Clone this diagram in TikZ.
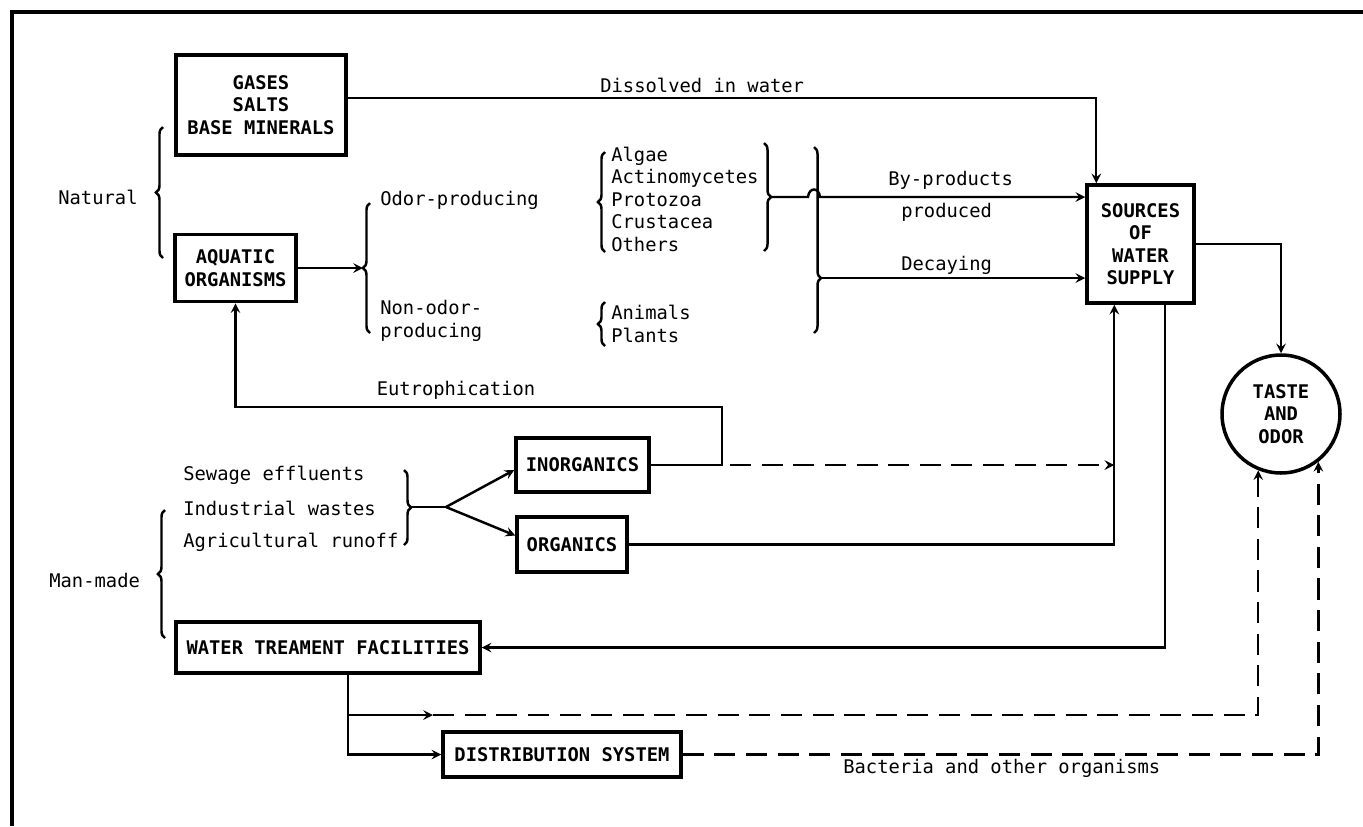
\documentclass[tikz,border=0pt]{standalone}
\usepackage{fontspec}
\newfontfamily\typefont{DejaVu Sans Mono}
\usetikzlibrary{decorations.pathreplacing}

\begin{document}
\begin{tikzpicture}[x=0.02cm, y=-0.02cm, >=stealth,
    txt/.style={font=\typefont\fontsize{10.7}{12.8}\selectfont, inner sep=0pt},
    labelbox/.style={draw, line width=2pt, align=center, inner sep=0pt,
      font=\typefont\bfseries\fontsize{10.7}{12.8}\selectfont},
    link/.style={line width=1.4pt},
    dashlink/.style={line width=1.4pt, dash pattern=on 12pt off 6pt},
    curly/.style={decorate, decoration={brace, amplitude=4pt}, line width=1.4pt}]

    \useasboundingbox (0,0) rectangle (1363,826);

    % --- Frame (top and left only) ---
    \draw[line width=2.2pt] (1363,12) -- (12,12) -- (12,826);

    % --- Boxes ---
    \node[labelbox, minimum width=3.4cm, minimum height=2cm] (gases) at (261,105) {GASES\\SALTS\\BASE MINERALS};
    \node[labelbox, minimum width=2.42cm, minimum height=1.34cm] (aquatic) at (235.5,268) {AQUATIC\\ORGANISMS};
    \node[labelbox, minimum width=2.14cm, minimum height=2.36cm] (sources) at (1140.5,244) {SOURCES\\OF\\WATER\\SUPPLY};
    \node[labelbox, circle, minimum size=2.36cm] (taste) at (1281,414) {TASTE\\AND\\ODOR};
    \node[labelbox, minimum width=2.66cm, minimum height=1.08cm] (inorg) at (582.5,465) {INORGANICS};
    \node[labelbox, minimum width=2.2cm, minimum height=1.1cm] (org) at (572,544.5) {ORGANICS};
    \node[labelbox, minimum width=6.08cm, minimum height=1.02cm] (treat) at (328,647.5) {WATER TREAMENT FACILITIES};
    \node[labelbox, minimum width=4.76cm, minimum height=0.9cm] (distr) at (562,754.5) {DISTRIBUTION SYSTEM};

    % --- Plain labels ---
    \node[txt, anchor=west] (natural) at (58,197) {Natural};
    \node[txt, anchor=west] (manmade) at (49,580) {Man-made};
    \node[txt, anchor=west] (dissolved) at (600,85) {Dissolved in water};
    \node[txt, anchor=west] (odor) at (380,200) {Odor-producing};
    \node[txt, anchor=west, align=left] (nonodor) at (380,321) {Non-odor-\\producing};
    \node[txt, anchor=west, align=left] (algae) at (611,199) {Algae\\Actinomycetes\\Protozoa\\Crustacea\\Others};
    \node[txt, anchor=west, align=left] (animals) at (611,324) {Animals\\Plants};
    \node[txt, anchor=west] (byprod) at (888,180) {By-products};
    \node[txt, anchor=west] (produced) at (901,212) {produced};
    \node[txt, anchor=west] (decaying) at (901,265) {Decaying};
    \node[txt] (eutro) at (456,390) {Eutrophication};
    \node[txt, anchor=west] (sewage) at (183,475) {Sewage effluents};
    \node[txt, anchor=west] (industrial) at (183,508) {Industrial wastes};
    \node[txt, anchor=west] (agri) at (183,542) {Agricultural runoff};
    \node[txt, anchor=west] (bacteria) at (843,768) {Bacteria and other organisms};

    % --- Braces ---
    \draw[curly] (163,258) -- (163,127);
    \draw[curly] (165,638) -- (165,510);
    \draw[curly] (370,333) -- (370,203);
    \draw[curly] (605,252) -- (605,152);
    \draw[curly] (605,346) -- (605,302);
    \draw[curly] (764,143) -- (764,251);
    \draw[curly, decoration={aspect=0.705}] (814,147) -- (814,333);
    \draw[curly] (404,470) -- (404,545);

    % --- Helper points ---
    \coordinate (odortip) at (363,268);
    \coordinate (bptip) at (771,197);
    \coordinate (dectip) at (821,278);
    \coordinate (sewtip) at (411,507);
    \coordinate (split) at (446,507);
    \coordinate (eucorner) at (722,465);
    \coordinate (eutop) at (722,407);
    \coordinate (sbin) at ([xshift=0.58cm]sources.south west);
    \coordinate (sbout) at ([xshift=1.6cm]sources.south west);
    \coordinate (tdown) at ([xshift=0.4cm]treat.south);
    \coordinate (tbranch) at (348,715);
    \coordinate (tmid) at (433,715);

    % --- Natural side ---
    \draw[link,->] ([yshift=0.14cm]gases.east) -| ([xshift=0.22cm]sources.north west);
    \draw[link,->] (aquatic.east) -- (odortip);
    \draw[link,->] (bptip) -- (808,197) .. controls (809,187) and (819,187) .. (820,197) -- (sources.west |- bptip);
    \draw[link,->] (dectip) -- (sources.west |- dectip);
    \draw[link,->] (sources.east) -| (taste.north);

    % --- Man-made side ---
    \draw[link] (sewtip) -- (split);
    \draw[link,->] (split) -- ([yshift=-0.1cm]inorg.west);
    \draw[link,->] (split) -- ([yshift=0.18cm]org.west);
    \draw[link,->] (inorg.east) -- (eucorner) -- (eutop) -| (aquatic.south);
    \draw[dashlink,->] ([xshift=0.16cm]eucorner) -- (eucorner -| sbin);
    \draw[link,->] (org.east) -| (sbin);
    \draw[link,->] (sbout) |- (treat.east);

    % --- Treatment and distribution ---
    \draw[link,->] (tdown) |- (distr.west);
    \draw[link,->] (tbranch) -- (tmid);
    \draw[dashlink,->] (tmid) -| (taste.248);
    \draw[dashlink,->] (distr.east) -| (taste.308);

\end{tikzpicture}
\end{document}
